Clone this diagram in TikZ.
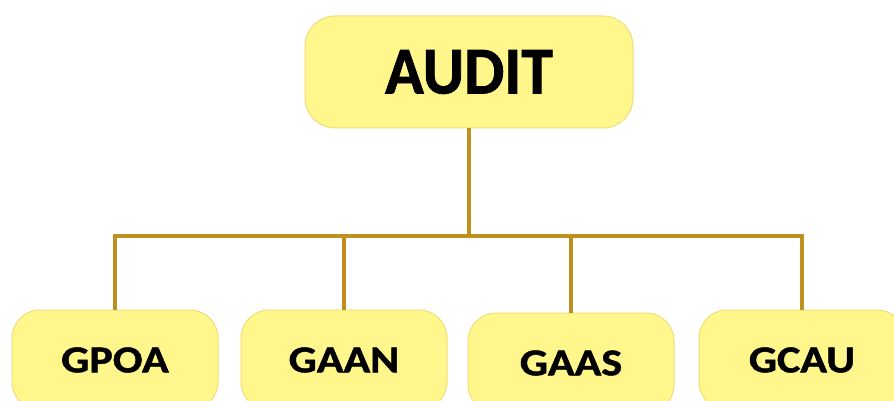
\documentclass[tikz,border=0pt]{standalone}
\usepackage{fontspec}
\setmainfont{Carlito}
\newfontfamily\labelfont[FakeBold=1.2]{Carlito Bold}
\definecolor{boxfill}{RGB}{255,246,140}
\definecolor{boxline}{RGB}{240,222,120}
\definecolor{linkcol}{RGB}{191,144,32}
\newcommand{\widelabel}[1]{\scalebox{1.16}[1]{#1}}
\newcommand{\narrowlabel}[1]{\scalebox{0.95}[1]{#1}}
\tikzset{
  topbox/.style={draw=boxline, line width=1pt, fill=boxfill, rounded corners=30pt,
    minimum width=328pt, minimum height=112pt, inner sep=0pt,
    font=\labelfont\fontsize{67}{67}\selectfont},
  leafbox/.style={draw=boxline, line width=1pt, fill=boxfill, rounded corners=28pt,
    minimum width=206pt, minimum height=100pt, inner sep=0pt,
    font=\labelfont\fontsize{38}{38}\selectfont},
  link/.style={draw=linkcol, line width=3.5pt}
}
\begin{document}
\begin{tikzpicture}[x=1pt,y=-1pt]
\useasboundingbox[fill=white] (0,0) rectangle (894,401);
\node[topbox] (audit) at (469,72) {\narrowlabel{AUDIT}};
\node[leafbox] (gpoa) at (115,360) {\widelabel{GPOA}};
\node[leafbox] (gaan) at (344,360) {\widelabel{GAAN}};
\node[leafbox] (gaas) at (571,363) {\widelabel{GAAS}};
\node[leafbox] (gcau) at (802,360) {\widelabel{GCAU}};
\coordinate (bus) at (469,236);
\draw[link] (audit.south) -- (bus);
\draw[link] (bus) -| (gpoa.north);
\draw[link] (bus) -| (gaan.north);
\draw[link] (bus) -| (gaas.north);
\draw[link] (bus) -| (gcau.north);
\end{tikzpicture}
\end{document}
